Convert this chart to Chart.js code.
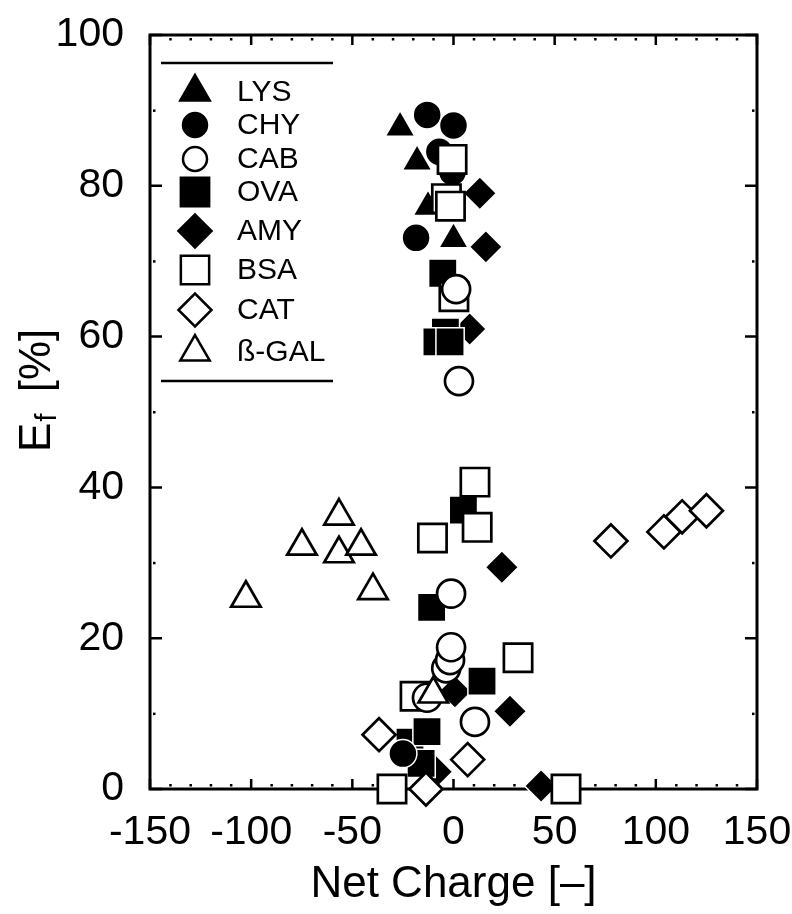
<!DOCTYPE html>
<html>
<head>
<meta charset="utf-8">
<script src="https://cdn.jsdelivr.net/npm/chart.js@4/dist/chart.umd.min.js"></script>
<style>
  body { margin: 0; background: #fff; }
  #wrap { width: 792px; height: 914px; }
</style>
</head>
<body>
<div id="wrap"><canvas id="efChart" width="792" height="914"></canvas></div>
<script>
// net charge [-] and Ef [%] per protein
const lysX = [-26.4, -18, -12.6, 0];
const lysY = [87.7, 83.2, 77.2, 72.9];
const chyX = [-13, 0, -7, -0.5, -18.5, -25];
const chyY = [89.4, 88, 84.5, 81.8, 73.1, 4.7];
const cabX = [1.3, 2.7, -1.2, -3.6, -1.7, -1.2, -13.1, 10.6];
const cabY = [66.3, 54.1, 25.9, 16.0, 17.1, 18.8, 12.1, 8.9];
const ovaX = [-5.3, -4, -8.2, -1.7, 4.9, -10.8, 14.1, -21.5, -13.1, -16];
const ovaY = [68.4, 60.6, 59.3, 59.3, 37.0, 24.1, 14.3, 6.2, 7.6, 3.4];
const amyX = [13, 16, 8, 23.9, 0.7, 27.9, -8.6, 43.3];
const amyY = [79, 71.9, 61, 29.4, 12.9, 10.3, 2.3, 0.4];
const bsaX = [-0.7, -3.5, -1.5, 0.2, 10.6, 11.7, -10.4, -19, 31.9, -30.4, 55.6];
const bsaY = [83.5, 78.3, 77.3, 65.3, 40.7, 34.7, 33.3, 12.3, 17.4, 0, 0];
const catX = [77.8, 104, 113, 125, -36.8, 7, -13.6];
const catY = [32.9, 34.1, 36.1, 36.9, 7.2, 3.9, 0];
const galX = [-102.6, -74.9, -56.6, -56.6, -45.7, -39.8, -10];
const galY = [25.3, 32.2, 36.2, 31.2, 32.2, 26.3, 12.6];

const xTicks = [-150, -100, -50, 0, 50, 100, 150];
const yTicks = [0, 20, 40, 60, 80, 100];

const FONT = '"Liberation Sans", Arial, Helvetica, sans-serif';

function pts(xs, ys) {
  return xs.map((x, i) => ({ x: x, y: ys[i] }));
}

// filled = black with thin white rim, open = white with black outline
function series(label, xs, ys, style, radius, filled, order) {
  return {
    label: label,
    data: pts(xs, ys),
    pointStyle: style,
    pointRadius: radius,
    pointBackgroundColor: filled ? '#000' : '#fff',
    pointBorderColor: filled ? '#fff' : '#000',
    pointBorderWidth: filled ? 1.5 : 2.7,
    showLine: false,
    clip: false,
    order: order,
  };
}

const datasets = [
  series('LYS', lysX, lysY, 'triangle', 17, true, 8),
  series('CHY', chyX, chyY, 'circle', 14, true, 5),
  series('CAB', cabX, cabY, 'circle', 14, false, 3),
  series('OVA', ovaX, ovaY, 'rect', 20, true, 6),
  series('AMY', amyX, amyY, 'rectRot', 16.5, true, 7),
  series('BSA', bsaX, bsaY, 'rect', 20, false, 4),
  series('CAT', catX, catY, 'rectRot', 16.5, false, 2),
  series('ß-GAL', galX, galY, 'triangle', 17, false, 1),
];

const legendRows = [92, 125, 159, 192, 231, 270, 310, 352];

// frame, inward ticks, legend box and axis titles
const framePlugin = {
  id: 'frame',
  beforeDatasetsDraw(chart) {
    const { ctx, chartArea: a, scales } = chart;
    const xs = scales.x, ys = scales.y;
    ctx.save();
    ctx.strokeStyle = '#000';
    ctx.fillStyle = '#000';

    // minor ticks as dots
    for (let v = -140; v < 150; v += 10) {
      if (v % 50 === 0) continue;
      const px = xs.getPixelForValue(v);
      ctx.fillRect(px - 1, a.bottom - 5, 2.5, 2.5);
      ctx.fillRect(px - 1, a.top + 3, 2.5, 2.5);
    }
    for (let v = 10; v < 100; v += 20) {
      const py = ys.getPixelForValue(v);
      ctx.fillRect(a.left + 3, py - 1, 2.5, 2.5);
      ctx.fillRect(a.right - 5, py - 1, 2.5, 2.5);
    }
    // major ticks
    ctx.lineWidth = 2.5;
    ctx.beginPath();
    xTicks.forEach(v => {
      const px = xs.getPixelForValue(v);
      ctx.moveTo(px, a.bottom); ctx.lineTo(px, a.bottom - 10);
      ctx.moveTo(px, a.top); ctx.lineTo(px, a.top + 10);
    });
    yTicks.forEach(v => {
      const py = ys.getPixelForValue(v);
      ctx.moveTo(a.left, py); ctx.lineTo(a.left + 12, py);
      ctx.moveTo(a.right, py); ctx.lineTo(a.right - 12, py);
    });
    ctx.stroke();

    ctx.lineWidth = 3;
    ctx.strokeRect(a.left, a.top, a.right - a.left, a.bottom - a.top);
    ctx.restore();
  },
  afterDraw(chart) {
    const { ctx, chartArea: a } = chart;
    ctx.save();

    // legend
    ctx.strokeStyle = '#000';
    ctx.lineWidth = 2.5;
    ctx.beginPath();
    ctx.moveTo(161, 63); ctx.lineTo(333, 63);
    ctx.moveTo(161, 381); ctx.lineTo(333, 381);
    ctx.stroke();

    ctx.font = '30px ' + FONT;
    ctx.textBaseline = 'middle';
    ctx.textAlign = 'left';
    datasets.forEach((ds, i) => {
      const y = legendRows[i];
      const r = ds.pointStyle === 'circle' ? 12 : ds.pointRadius;
      ctx.fillStyle = ds.pointBackgroundColor;
      ctx.strokeStyle = ds.pointBackgroundColor === '#000' ? '#000' : '#000';
      ctx.lineWidth = ds.pointBackgroundColor === '#000' ? 0 : 2.5;
      Chart.helpers.drawPoint(ctx, {
        pointStyle: ds.pointStyle, radius: r, rotation: 0,
        borderWidth: ctx.lineWidth,
      }, 195, y);
      ctx.fillStyle = '#000';
      ctx.fillText(ds.label, 237, y + 1);
    });

    // x title
    ctx.fillStyle = '#000';
    ctx.font = '44px ' + FONT;
    ctx.textAlign = 'center';
    ctx.textBaseline = 'middle';
    ctx.fillText('Net Charge [\u2013]', (a.left + a.right) / 2, 885);

    // y title: E with subscript f, then [%]
    ctx.translate(38, 452);
    ctx.rotate(-Math.PI / 2);
    ctx.textAlign = 'left';
    ctx.textBaseline = 'middle';
    ctx.font = '44px ' + FONT;
    ctx.fillText('E', 0, 0);
    const ew = ctx.measureText('E').width;
    ctx.font = '30px ' + FONT;
    ctx.fillText('f', ew + 1, 10);
    const fw = ctx.measureText('f').width;
    ctx.font = '44px ' + FONT;
    ctx.fillText('[%]', ew + fw + 22, 0);
    ctx.restore();
  },
};

function fixWidth(w) {
  return s => {
    s.width = w;
    s.paddingLeft = s.paddingRight = s.paddingTop = s.paddingBottom = 0;
  };
}
function fixHeight(h) {
  return s => {
    s.height = h;
    s.paddingLeft = s.paddingRight = s.paddingTop = s.paddingBottom = 0;
  };
}

new Chart(document.getElementById('efChart').getContext('2d'), {
  type: 'scatter',
  data: { datasets: datasets },
  options: {
    responsive: false,
    animation: false,
    events: [],
    layout: { padding: { left: 0, right: 35, top: 35, bottom: 0 } },
    plugins: {
      legend: { display: false },
      tooltip: { enabled: false },
    },
    scales: {
      x: {
        type: 'linear',
        min: -150,
        max: 150,
        afterBuildTicks: s => { s.ticks = xTicks.map(v => ({ value: v })); },
        afterFit: fixHeight(125),
        grid: { display: false, drawTicks: false },
        border: { display: false },
        ticks: {
          color: '#000',
          padding: 19,
          maxRotation: 0,
          autoSkip: false,
          font: { family: FONT, size: 41 },
        },
      },
      y: {
        type: 'linear',
        min: 0,
        max: 100,
        afterBuildTicks: s => { s.ticks = yTicks.map(v => ({ value: v })); },
        afterFit: fixWidth(150),
        grid: { display: false, drawTicks: false },
        border: { display: false },
        ticks: {
          color: '#000',
          padding: 26,
          autoSkip: false,
          font: { family: FONT, size: 41 },
        },
      },
    },
  },
  plugins: [framePlugin],
});
</script>
</body>
</html>
